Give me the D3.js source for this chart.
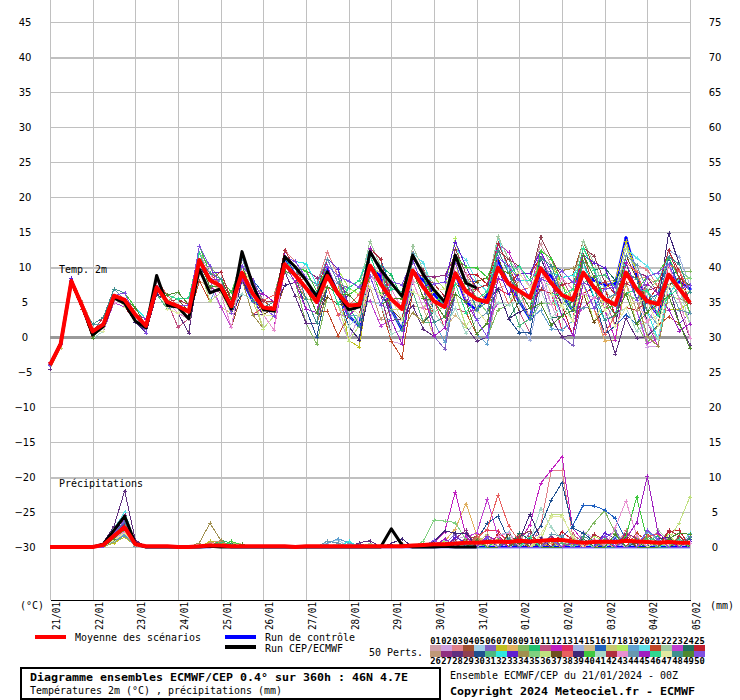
<!DOCTYPE html>
<html lang="fr">
<head>
<meta charset="utf-8">
<title>Diagramme ensembles ECMWF/CEP</title>
<script src="https://cdnjs.cloudflare.com/ajax/libs/d3/7.8.5/d3.min.js"></script>
<style>
  body { margin: 0; background: #fff; }
  svg { display: block; }
  text { font-family: "DejaVu Sans Mono", "Liberation Mono", monospace; fill: #000; }
</style>
</head>
<body>
<svg id="chart" width="740" height="700"></svg>
<script>
// ---- data ----
const days = ['21/01', '22/01', '23/01', '24/01', '25/01', '26/01', '27/01', '28/01',
  '29/01', '30/01', '31/01', '01/02', '02/02', '03/02', '04/02', '05/02'];
const dayHours = [0, 24, 48, 72, 96, 120, 144, 168, 192, 216, 240, 264, 288, 312, 336, 360];
const tempTicks = [-30, -25, -20, -15, -10, -5, 0, 5, 10, 15, 20, 25, 30, 35, 40, 45];
const precipTicks = [0, 5, 10, 15, 20, 25, 30, 35, 40, 45, 50, 55, 60, 65, 70, 75];
const stepHours = 6;

// ensemble mean of 2m temperature, every 6 h (°C)
const tempMean = [-4, -1, 8, 4.5, 0.8, 1.8, 5.9, 5.3, 3.2, 1.6,
  7.1, 5.0, 4.4, 3.6, 11.0, 8.1, 7.3, 4.4, 9.2, 6.2,
  4.2, 4.0, 10.4, 8.8, 7.0, 5.0, 8.7, 6.2, 4.5, 4.6,
  10.2, 7.6, 5.4, 4.0, 9.5, 7.1, 5.1, 4.3, 9.1, 6.5,
  5.4, 5.0, 9.9, 7.6, 6.6, 5.6, 9.8, 7.7, 6.0, 5.3,
  9.2, 7.1, 5.4, 4.6, 9.2, 6.8, 5.1, 4.7, 8.9, 6.9,
  4.9];
// deterministic run (stops at 240 h)
const tempHres = [-4, -1, 8, 4.5, 0.3, 1.5, 5.6, 4.8, 2.3, 1.3,
  8.8, 4.5, 4.3, 2.6, 9.7, 6.3, 6.9, 4.0, 12.2, 7.5,
  3.9, 3.7, 11.5, 10.0, 8.1, 5.8, 9.3, 6.2, 3.9, 4.3,
  12.2, 9.6, 7.7, 5.8, 11.7, 8.9, 6.7, 5.0, 11.7, 7.7,
  7.0];
// control run and the 50 perturbed members, as read departures from the mean (°C)
const tempControlOffsets = [0,0,0,0,0,0,0,0,0,0,0,0, 0,0,0,0,0,0,-1,-1,0,0,1,0, 0,1,1,0,-1.5,-3,0,1,-1.5,-3,0,1, 1,0,0,-1.5,-1.5,1,1,0,-1.5,-3,0,1, 0,-1.5,0,1,2,3,5,2,0,-1.5,0,1,2];
const tempMemberOffsets = [
  [0,0.5,0.5,0,0,1,0,0,1,1,0,1, 1,0,1,1,2,1,0,1,2,1,1,0, 0,-1.5,1.5,0,-1.5,-3,0,1.5,2.5,1.5,0,-1.5, -3,-5,-1.5,-3,-5,-6,-3,0,1.5,2.5,3.5,2.5, 1.5,0,2.5,1.5,3.5,2.5,0,-1.5,-3,-5,-1.5,0,1.5],
  [0,-0.5,-0.5,0,-1,0,0,-1,-1,0,-1,0, -1,-1,0,-1,-3,-1,-1,0,1,0,-1,-1, -3,-5,-1.5,-3,-5,-1.5,0,-3,-6,-5,-1.5,-3, 0,1.5,2.5,1.5,0,-1.5,1.5,2.5,3.5,1.5,0,-3, -5,-3,0,-1.5,-6,-5,-1.5,-3,-6.5,-6,-3,-5,-6],
  [0,0,0.5,0.5,0,0,1,1,0,-1,1,0, 0,1,2,1,1,0,2,1,0,1,2,2, 1.5,2.5,3.5,2.5,1.5,0,2.5,3.5,1.5,0,2.5,1.5, 0,-1.5,1.5,2.5,2.5,1.5,3.5,2.5,0,-3,1.5,0, -1.5,-3,1.5,0,-3,-1.5,2.5,3.5,4.5,2.5,1.5,0,-1.5],
  [0,0,-0.5,0,0,-1,-1,0,0,0,-1,-1, -1,-3,-1,0,-1,-3,-3,-1,0,-1,-3,-1, 0,1.5,0,-1.5,-3,-5,-1.5,0,1.5,0,-3,-1.5, -1.5,0,2.5,3.5,1.5,0,2.5,1.5,-1.5,-3,0,1.5, 2.5,3.5,4.5,2.5,0,1.5,3.5,2.5,-1.5,-3,0,2.5,3.5],
  [-0.5,0,0,0,1,0,-1,0,1,1,0,0, 1,2,-1,0,1,1,-3,-1,0,1,-1,0, 1.5,0,-3,-1.5,0,-1.5,-5,-3,-1.5,0,-3,-1.5, 1.5,2.5,0,-1.5,-5,-3,0,1.5,2.5,3.5,1.5,0, -3,-1.5,3.5,2.5,1.5,0,-1.5,-3,-5,-1.5,2.5,3.5,1.5],
  [0,0,0,-0.5,0,0,0,0,-1,-1,0,0, 0,-1,1,1,0,-1,1,2,1,0,0,1, 2.5,1.5,0,1.5,2.5,3.5,1.5,0,-1.5,-3,-1.5,0, -5,-6,-3,-1.5,0,-1.5,-5,-3,0,1.5,-1.5,-5, -6,-6.5,-3,-1.5,0,1.5,-3,-5,-1.5,0,2.5,1.5,-1.5],
  [0.5,0,0.5,0,1,1,0,1,0,0,0,1, 2,1,0,0,-1,0,1,1,-1,-3,0,1, -1.5,-3,0,1.5,-5,-6,-1.5,0,1.5,2.5,0,-1.5, 0,-1.5,-3,-1.5,1.5,2.5,0,-1.5,-5,-3,1.5,0, 2.5,1.5,0,-1.5,1.5,3.5,4.5,2.5,0,-1.5,-5,-3,0],
  [0,0,0,0,0,-1,0,0,0,1,1,0, -1,0,1,0,-1,0,0,-1,-3,-1,1,0, -3,-1.5,1.5,2.5,0,-1.5,1.5,2.5,0,-1.5,-5,-3, 1.5,0,-1.5,1.5,2.5,3.5,2.5,1.5,-1.5,0,2.5,3.5, 0,-1.5,-5,-3,-6,-5,-1.5,1.5,3.5,2.5,0,-1.5,-3],
  [0,-0.5,0,0,-1,-1,0,0,1,0,0,-1, 0,1,1,2,1,1,-1,0,1,2,0,-1, -5,-6,-3,-1.5,-3,-5,0,1.5,-1.5,-3,1.5,0, 2.5,1.5,0,-1.5,-3,-5,-6,-3,0,1.5,-1.5,-3, 1.5,2.5,0,1.5,3.5,2.5,-3,-5,-6,-3,1.5,2.5,4.5],
  [0,0.5,0,0.5,0,1,1,0,0,0,1,1, 1,1,0,-1,0,1,1,0,-1,0,1,2, 1.5,0,2.5,1.5,0,-3,1.5,2.5,3.5,1.5,-1.5,0, -3,-1.5,1.5,2.5,0,-1.5,2.5,3.5,1.5,0,-3,-1.5, 0,1.5,-1.5,-3,1.5,2.5,1.5,0,2.5,3.5,-1.5,-3,-5],
  [0,0,0,0,1,0,0,-1,0,0,-1,0, -3,-1,0,-1,-1,-3,0,1,0,-1,-1,0, 1.5,2.5,-1.5,-3,-1.5,0,-3,-1.5,0,1.5,-1.5,-3, -1.5,0,-5,-3,-1.5,1.5,-1.5,0,-3,-5,-1.5,1.5, 2.5,0,-1.5,1.5,0,-3,-5,-1.5,1.5,0,-3,-1.5,0],
  [0,0,-0.5,0,0,0,1,0,-1,0,1,0, 0,-1,2,1,0,-1,1,0,-1,-3,2,1, 0,-1.5,2.5,1.5,-1.5,-3,1.5,0,-3,-5,0,1.5, 2.5,3.5,1.5,0,-3,-1.5,3.5,4.5,2.5,1.5,0,-1.5, -1.5,0,3.5,2.5,-1.5,-5,0,1.5,-3,-6,-1.5,0,2.5],
  [0.5,0,0,0,-1,0,0,1,1,0,0,0, 1,0,-1,-1,1,2,-1,-3,0,1,0,-1, -1.5,0,1.5,0,1.5,2.5,-1.5,-3,0,1.5,2.5,1.5, 0,-3,-1.5,0,1.5,0,-3,-1.5,1.5,2.5,0,-1.5, -5,-3,1.5,2.5,0,-1.5,2.5,1.5,-1.5,-3,1.5,0,-3],
  [0,0,0,0,0,0,-1,-1,0,1,-1,0, 1,2,1,0,2,1,0,1,1,2,1,0, 3.5,2.5,1.5,2.5,0,1.5,2.5,1.5,-1.5,0,1.5,2.5, 1.5,0,2.5,1.5,-1.5,-3,0,-1.5,-5,-6,-3,0, 1.5,2.5,0,-1.5,-3,0,1.5,2.5,0,1.5,3.5,4.5,2.5],
  [0,0.5,0.5,0.5,1,1,1,0,-1,-1,0,1, 0,-1,-3,-1,0,-1,-1,0,-1,0,-3,-1, -1.5,0,-3,-1.5,-5,-3,-3,-1.5,0,-1.5,-5,-3, -5,-3,-6,-5,-1.5,0,-1.5,-3,0,1.5,2.5,1.5, 0,-1.5,-3,0,2.5,3.5,1.5,0,-3,-1.5,-5,-6,-3],
  [0,0,0,0,0,-1,0,1,0,0,0,-1, 0,1,0,1,-1,0,1,2,2,1,1,2, 1.5,0,-1.5,0,1.5,0,2.5,3.5,1.5,0,1.5,0, 0,-1.5,0,1.5,2.5,1.5,-1.5,-3,-1.5,0,1.5,2.5, 3.5,2.5,1.5,0,-1.5,-3,-6,-5,0,1.5,2.5,0,-1.5],
  [-0.5,-0.5,0,0,-1,-1,-1,0,0,1,0,0, -1,-3,0,0,-3,-1,0,-1,-3,-1,0,-1, -3,-1.5,0,-1.5,-3,-1.5,1.5,0,-1.5,-3,-1.5,-3, -1.5,0,1.5,-1.5,-3,-1.5,1.5,2.5,0,-1.5,-5,-3, -1.5,1.5,2.5,3.5,1.5,0,-1.5,-5,-3,0,1.5,-1.5,-5],
  [0,0,0.5,0,0,1,0,0,1,0,1,0, 1,0,1,2,0,-1,2,1,1,0,2,1, 0,1.5,2.5,3.5,2.5,1.5,0,-1.5,2.5,1.5,0,1.5, 3.5,2.5,5,0,2.5,3.5,1.5,0,-3,-1.5,1.5,2.5, 1.5,0,-1.5,-5,-1.5,0,2.5,3.5,1.5,0,-1.5,1.5,3.5],
  [0,0,0,0,1,0,0,0,-1,0,1,1, 0,0,-1,-3,1,1,-1,-1,0,0,-1,-3, -1.5,-3,0,0,-1.5,-1.5,-3,-5,-3,-1.5,1.5,0, -3,-5,-3,-1.5,-5,-6,-1.5,0,-1.5,-3,-6,-6.5, -5,-3,0,-1.5,-5,-3,0,1.5,-1.5,-3,0,-1.5,-3],
  [0,0,0,0,0,0,0,-1,0,0,0,-1, -1,0,1,1,0,0,1,1,0,1,1,0, 1.5,2.5,1.5,0,2.5,3.5,2.5,1.5,0,-1.5,2.5,3.5, 1.5,0,3.5,4.5,2.5,1.5,4.5,1.5,1.5,2.5,0,-1.5, -3,-5,-1.5,0,2.5,1.5,3.5,4.5,5,3.5,2.5,1.5,0],
  [0,0,-0.5,-0.5,-1,0,1,1,0,-1,0,0, 0,-1,-3,-3,-1,0,-1,-1,1,0,-1,0, 0,-1.5,-5,-6,-1.5,0,-1.5,-3,-6,-7,-3,-1.5, 0,1.5,-1.5,-3,-5,-3,0,1.5,-1.5,-3,-5,-3, 0,1.5,2.5,0,-1.5,-3,1.5,2.5,0,-3,-6,-5,-1.5],
  [0,0,0,0,0,0,0,1,1,1,0,0, 1,1,2,1,1,2,2,1,0,1,2,1, 1.5,2.5,0,-1.5,1.5,2.5,3.5,2.5,1.5,0,3.5,2.5, 2.5,1.5,0,-1.5,1.5,2.5,4.5,3.5,2.5,1.5,-1.5,0, 1.5,2.5,4.5,3.5,1.5,0,-1.5,-3,1.5,2.5,0,-1.5,1.5],
  [0,0,0,0,0,-1,-1,-1,0,0,-1,0, 0,-1,-1,0,-3,-3,0,1,-1,-3,-1,0, -1.5,0,-1.5,-3,-1.5,0,-5,-6,-3,-1.5,0,-1.5, -3,-1.5,0,1.5,-1.5,-3,-5,-3,0,1.5,2.5,0, -1.5,-3,-5,-1.5,0,1.5,-1.5,-3,-6,-5,-1.5,0,1.5],
  [0,0.5,0,0,1,1,0,0,0,-1,0,1, 1,2,0,-1,1,2,0,-1,2,1,0,1, 2.5,1.5,-1.5,-3,0,1.5,0,-1.5,1.5,2.5,-3,-5, -1.5,0,2.5,1.5,0,-1.5,-3,-5,-1.5,0,-3,-5, -3,0,1.5,2.5,4.5,3.5,1.5,-1.5,-5,-3,0,2.5,3.5],
  [0,0,0,0,0,0,0,-1,-1,0,0,0, -1,-1,1,0,0,-1,1,0,-1,-1,0,1, 0,1.5,1.5,0,-3,-1.5,2.5,1.5,0,1.5,1.5,0, -1.5,-3,1.5,2.5,3.5,2.5,1.5,0,2.5,3.5,1.5,0, -1.5,-5,-3,0,1.5,-1.5,-5,-3,0,2.5,3.5,2.5,0],
  [0,0,0,0.5,0,0,1,0,0,1,0,0, 0,0,1,2,-1,-1,0,1,1,2,-1,-3, -1.5,-3,1.5,2.5,0,-1.5,-3,-5,-1.5,0,1.5,2.5, 0,-1.5,-1.5,0,-3,-5,-1.5,0,-3,-1.5,1.5,2.5, 0,1.5,-1.5,-3,0,1.5,-1.5,-3,2.5,3.5,1.5,0,-1.5],
  [0,0,0,0,-1,-1,0,0,0,0,1,1, 1,0,0,-1,-1,0,2,2,0,-1,0,1, 2.5,3.5,0,-1.5,1.5,2.5,0,-1.5,-5,-3,0,1.5, 3.5,4.5,2.5,1.5,0,-1.5,1.5,2.5,0,-1.5,1.5,0, -3,-5,0,1.5,-1.5,-3,1.5,2.5,3.5,1.5,-1.5,-3,-5],
  [-0.5,0,0,0,0,1,1,0,-1,0,0,-1, -1,-3,-1,-1,0,1,-1,-3,-1,0,-1,-3, -5,-3,-1.5,0,-1.5,-3,-1.5,0,-3,-1.5,-5,-6, -5,-3,-3,-5,-6,-5,-1.5,-3,-1.5,0,-3,-5, -6,-5,-1.5,0,-3,-7,-6.5,-7,-5,-3,-1.5,-5,-6],
  [0,0,0,0,1,0,0,0,0,0,0,0, 0,1,1,1,0,0,1,0,0,1,1,1, 0,0,2.5,1.5,1.5,0,1.5,2.5,0,-1.5,1.5,2.5, 0,1.5,3.5,2.5,1.5,0,2.5,3.5,3.5,2.5,4.5,3.5, 2.5,1.5,3.5,4.5,2.5,1.5,0,-1.5,2.5,1.5,-3,-1.5,0],
  [0,0,0,0,0,0,-1,0,0,0,0,0, 0,-1,0,1,0,-1,-3,-1,0,-1,-1,0, -3,-5,-1.5,0,-3,-5,1.5,2.5,-1.5,-3,0,1.5, -1.5,-3,0,1.5,-1.5,0,-3,-5,-6,-5,-1.5,0, 1.5,2.5,0,-1.5,-5,-3,0,1.5,0,-1.5,2.5,1.5,0],
  [0,0,0,0,-1,0,0,1,0,0,-1,-1, -1,0,0,-1,1,1,-1,0,2,1,-1,-1, 0,1.5,1.5,0,-1.5,-3,0,1.5,1.5,0,-3,-5, -3,-1.5,1.5,0,-1.5,1.5,0,-1.5,-5,-3,0,1.5, 0,-3,-1.5,1.5,3.5,2.5,1.5,0,-1.5,1.5,0,-1.5,1.5],
  [0,0,0,0,0,0,0,0,1,1,1,0, 1,1,-1,-1,0,1,1,2,0,0,1,2, 3.5,2.5,0,-1.5,0,1.5,-1.5,-3,1.5,2.5,-1.5,-3, 1.5,2.5,-1.5,-3,0,1.5,-1.5,-3,1.5,2.5,0,1.5, 2.5,3.5,1.5,-1.5,-3,-1.5,2.5,1.5,-1.5,-5,-3,1.5,2.5],
  [0,0,0.5,0,1,1,0,-1,0,0,0,1, 0,0,1,1,2,1,-1,-1,-1,0,2,1, -1.5,0,2.5,3.5,0,-1.5,0,1.5,-3,-5,-1.5,0, 2.5,3.5,4.5,3.5,1.5,2.5,0,-1.5,2.5,3.5,2.5,1.5, -1.5,0,2.5,3.5,4.5,1.5,-1.5,0,1.5,0,-3,-5,-1.5],
  [0,0,0,0,0,-1,0,0,-1,-1,0,0, -1,-1,0,0,-1,-1,-1,-3,-3,-1,0,-1, -1.5,-3,-3,-1.5,-5,-3,-1.5,0,-1.5,-3,-6,-5, 0,1.5,-1.5,0,-3,-1.5,0,1.5,-1.5,-3,-1.5,0, 3.5,4.5,1.5,0,-1.5,1.5,0,-1.5,-5,-6,-3,-1.5,0],
  [0,0,0,0,0,0,1,1,0,0,1,0, 2,1,1,2,0,-1,1,0,1,2,1,0, 1.5,0,1.5,2.5,1.5,0,2.5,1.5,0,1.5,1.5,0, -1.5,0,1.5,2.5,0,-1.5,1.5,0,-1.5,-3,-5,-3, 0,-1.5,1.5,2.5,0,-1.5,-3,-1.5,1.5,3.5,1.5,2.5,3.5],
  [0,0,0,0,-1,0,-1,0,0,1,0,-1, 0,0,-1,-3,-1,0,0,0,-3,-1,0,0, -1.5,0,0,-1.5,-5,-3,0,1.5,-1.5,0,-1.5,-3, 1.5,0,-3,-5,-1.5,0,-1.5,-3,1.5,0,-3,-1.5, 0,-1.5,-3,-5,0,1.5,3.5,2.5,0,-1.5,-3,-1.5,-3],
  [0,0,0,0,0,1,0,0,0,0,0,1, 1,0,-1,0,1,1,1,0,-1,0,1,1, 0,-1.5,-3,-1.5,0,1.5,1.5,0,-1.5,-1.5,0,1.5, 2.5,1.5,-1.5,0,2.5,3.5,1.5,0,-3,-1.5,1.5,0, -1.5,0,-3,-5,-1.5,0,2.5,1.5,0,-3,-1.5,1.5,2.5],
  [0,0,0,0,0,0,0,-1,0,0,1,1, 0,-1,0,1,0,0,-1,-1,1,2,0,-1, 1.5,2.5,-1.5,-3,0,1.5,0,-1.5,2.5,3.5,-1.5,-3, -1.5,-3,1.5,2.5,1.5,0,-1.5,-3,0,1.5,-3,-1.5, 1.5,2.5,-1.5,-3,-5,-1.5,1.5,2.5,0,-1.5,1.5,2.5,1.5],
  [0,0,0,0,1,0,0,0,-1,-1,-1,0, -1,-1,-1,0,-1,-3,-1,-1,0,0,-3,-1, -3,-1.5,0,-1.5,-3,-5,-3,-1.5,-1.5,-3,-3,-1.5, 0,1.5,0,-1.5,1.5,2.5,-3,-5,-3,-1.5,1.5,0, -3,-1.5,0,1.5,-1.5,-3,0,1.5,-3,0,6,3.5,1.5],
  [0,0,0,0,0,0,1,1,1,0,0,0, 0,1,2,1,1,2,1,0,1,1,0,1, 2.5,1.5,1.5,0,1.5,2.5,0,-1.5,1.5,2.5,2.5,1.5, 0,1.5,2.5,3.5,4.5,3.5,2.5,1.5,0,-1.5,2.5,3.5, 1.5,-1.5,2.5,1.5,-1.5,0,1.5,0,3.5,4.5,2.5,1.5,-1.5],
  [0,0,0,0,-1,-1,0,0,0,-1,0,0, 0,-1,-1,-1,0,0,-3,-1,0,0,-1,-1, -3,-1.5,0,-1.5,-3,-1.5,-1.5,-3,-5,-3,-1.5,0, -1.5,-3,-5,-6,-3,-1.5,-5,-3,-1.5,0,-3,-5, -1.5,0,-1.5,-3,0,-1.5,-5,-6,-3,-5,-1.5,0,-3],
  [0,0,0,0,0,1,1,0,0,0,0,0, 1,1,0,0,2,1,0,0,1,1,2,1, 0,1.5,2.5,1.5,0,-1.5,2.5,3.5,0,-1.5,0,1.5, 2.5,1.5,0,-1.5,1.5,2.5,3.5,2.5,0,-1.5,-3,-1.5, 1.5,2.5,1.5,0,2.5,1.5,-1.5,0,1.5,2.5,3.5,1.5,0],
  [0,0,0,0,0,0,-1,0,0,0,1,0, -1,-1,1,1,-1,-3,0,1,-1,-3,0,0, -1.5,-3,0,1.5,-1.5,-3,-1.5,0,1.5,0,-1.5,-3, 0,-1.5,1.5,2.5,-1.5,-3,0,1.5,2.5,1.5,-1.5,-3, 2.5,1.5,-3,-1.5,1.5,2.5,0,-1.5,-3,0,1.5,-1.5,-5],
  [0,0,0,0,1,0,1,0,0,0,0,-1, 0,1,0,-1,0,1,2,1,0,-1,0,1, 1.5,2.5,2.5,1.5,0,-1.5,-3,-1.5,0,1.5,2.5,1.5, 1.5,2.5,0,-1.5,-3,-1.5,1.5,2.5,-1.5,-3,0,1.5, 0,-1.5,-5,-3,0,1.5,2.5,3.5,1.5,0,-1.5,-3,-1.5],
  [0,0,0,0,-1,0,0,1,0,1,0,0, 0,0,1,0,1,0,-1,0,2,1,0,-1, -3,-1.5,1.5,0,-1.5,0,2.5,1.5,-3,-5,1.5,0, -5,-3,0,-1.5,-3,-5,-1.5,0,-1.5,-3,-1.5,0, -3,-5,-1.5,0,-3,-1.5,1.5,0,2.5,1.5,-5,-6,-3],
  [0,0,0,0,0,0,0,0,0,-1,0,1, 1,2,1,0,0,1,0,-1,0,1,1,0, 0,1.5,0,-1.5,2.5,3.5,1.5,0,1.5,2.5,0,-1.5, 1.5,0,-1.5,-3,0,1.5,2.5,1.5,3.5,2.5,0,-1.5, 0,1.5,3.5,2.5,0,-1.5,-3,0,1.5,-1.5,-3,0,2.5],
  [0,0,0,0,0,-1,0,-1,0,0,0,-1, -1,0,0,0,-1,-1,1,1,-1,-1,0,0, 1.5,0,-1.5,0,0,-1.5,-3,-1.5,0,-1.5,-3,-1.5, 1.5,2.5,1.5,0,-1.5,-3,0,1.5,2.5,1.5,0,-1.5, -1.5,-3,0,1.5,-1.5,-3,-5,-1.5,0,-3,-1.5,0,1.5],
  [0,0,0,0,1,1,1,1,0,0,0,0, 0,0,0,1,1,0,0,-1,0,1,1,1, -1.5,-3,1.5,2.5,-1.5,-3,1.5,2.5,-1.5,-3,1.5,0, -3,-1.5,2.5,1.5,-1.5,0,2.5,1.5,-1.5,-3,1.5,2.5, 0,-1.5,1.5,0,-3,-1.5,0,1.5,-1.5,0,2.5,3.5,1.5],
  [0,0,0,0,-1,0,0,0,1,0,0,1, 2,1,0,-1,0,1,1,0,0,-1,-1,0, 0,-1.5,-1.5,0,1.5,0,-1.5,-3,0,1.5,0,-1.5, 0,-1.5,-3,-1.5,-5,-3,0,1.5,0,-1.5,-5,-6, -3,-1.5,2.5,1.5,0,-1.5,-3,-5,-1.5,0,-3,-5,-6.5],
  [0,0,0,0,0,0,0,1,0,-1,0,0, 0,1,2,2,0,-1,1,2,0,-1,1,2, 1.5,0,1.5,2.5,3.5,2.5,-1.5,-3,2.5,3.5,1.5,0, 2.5,3.5,1.5,0,-3,-5,1.5,2.5,1.5,0,-1.5,0, 3.5,2.5,-1.5,-3,1.5,2.5,0,-1.5,3.5,4.5,1.5,0,2.5]
];

// precipitation over 6 h (mm)
const precipMean = [0, 0, 0, 0, 0, 0.3, 1.6, 2.8, 0.4, 0.1,
  0.1, 0.1, 0, 0, 0.1, 0.2, 0.2, 0.1, 0.1, 0.1,
  0.1, 0.1, 0.1, 0, 0.1, 0.1, 0.1, 0.1, 0.1, 0.1,
  0.1, 0.1, 0.1, 0.1, 0.2, 0.3, 0.4, 0.4, 0.5, 0.6,
  0.6, 0.7, 0.8, 0.7, 0.9, 0.8, 0.9, 1.0, 1.0, 0.8,
  0.6, 0.7, 0.8, 0.7, 0.9, 0.8, 0.7, 0.6, 0.7, 0.6,
  0.6];
const precipHres = [0, 0, 0, 0, 0, 0.4, 2.4, 4.4, 0.5, 0,
  0, 0, 0, 0, 0, 0.1, 0, 0, 0, 0,
  0, 0, 0, 0, 0, 0, 0, 0, 0, 0,
  0, 0, 2.6, 0.3, 0, 0, 0, 0.1, 0, 0,
  0];
const precipControl = [0, 0, 0, 0, 0, 0.3, 1.5, 3.0, 0.4, 0,
  0, 0, 0, 0, 0, 0, 0.2, 0, 0, 0,
  0, 0, 0, 0, 0, 0, 0, 0, 0, 0,
  0, 0, 0, 0, 0, 0, 0, 0, 0, 0,
  0, 0, 0, 0, 0, 0, 0, 0, 0, 0,
  0, 0, 0, 0, 0, 0, 0, 0, 0, 0,
  0];
// members: [step, mm] for the steps with rain, other steps dry
const precipMemberEvents = [
  [[6,1.2],[7,2.5],[8,0.3],[16,0.3],[40,0.8],[41,1.2],[44,0.5],[47,1.5],[48,0.6],[52,0.4],[55,0.9]],
  [[5,0.4],[6,2.0],[7,3.6],[8,0.5],[15,0.4],[38,1.0],[39,1.6],[43,0.8],[50,2.2],[51,1.2],[57,0.8]],
  [[6,1.5],[7,2.2],[8,0.2],[41,0.6],[46,3.0],[47,11.0],[48,11.0],[49,1.5],[54,2.4],[58,1.2]],
  [[5,0.2],[6,0.8],[7,1.6],[8,0.6],[17,0.4],[33,0.4],[39,1.2],[40,1.5],[44,0.6],[53,0.8],[56,1.8],[57,0.6]],
  [[6,1.0],[7,2.0],[8,0.4],[26,0.6],[27,1.0],[36,0.4],[42,1.6],[43,2.2],[45,0.6],[59,1.0]],
  [[5,0.5],[6,2.6],[7,4.2],[8,0.8],[16,0.6],[37,0.5],[38,1.8],[45,2.0],[46,1.4],[52,1.2],[53,2.4],[60,1.6]],
  [[6,0.6],[7,1.4],[8,0.2],[15,0.8],[16,0.6],[30,0.3],[41,0.8],[48,1.0],[49,0.5],[55,1.4]],
  [[5,0.3],[6,1.8],[7,3.2],[8,0.3],[37,0.8],[38,2.6],[39,6.2],[40,1.8],[47,0.6],[54,1.0],[58,0.8]],
  [[6,1.4],[7,2.8],[8,0.5],[17,0.3],[44,1.2],[50,1.4],[51,3.5],[52,5.2],[53,2.0],[59,0.6]],
  [[6,2.2],[7,3.0],[8,0.6],[16,1.0],[17,0.5],[39,0.5],[43,1.0],[44,1.4],[56,0.8],[57,1.6]],
  [[5,0.4],[6,1.2],[7,2.4],[8,0.4],[29,0.5],[42,0.8],[46,1.2],[49,1.8],[50,0.7]],
  [[6,1.6],[7,3.4],[8,0.6],[36,0.6],[37,2.2],[38,7.9],[39,1.5],[44,0.7],[45,3.2],[46,9.1],[47,11.0],[48,12.9],[49,2.7],[50,0.8],[56,1.0]],
  [[6,0.9],[7,1.8],[8,0.2],[16,0.4],[40,1.6],[41,2.4],[42,2.3],[43,0.6],[52,1.5],[58,0.7]],
  [[5,0.2],[6,1.4],[7,2.6],[8,0.5],[28,0.4],[38,0.4],[45,0.8],[53,1.6],[54,1.2],[60,0.8]],
  [[6,1.0],[7,2.0],[8,0.4],[15,0.5],[36,0.6],[44,1.8],[47,0.8],[51,0.6],[57,1.2]],
  [[6,2.4],[7,4.6],[8,0.9],[29,0.4],[39,0.8],[43,0.6],[48,1.4],[49,3.0],[50,6.0],[51,5.9],[52,5.3],[53,4.1],[54,1.0]],
  [[5,0.3],[6,1.6],[7,2.9],[8,0.4],[17,0.6],[18,0.4],[40,0.6],[41,1.8],[55,0.8],[59,1.6]],
  [[6,1.2],[7,2.4],[8,0.4],[37,0.9],[42,1.2],[46,0.6],[51,1.6],[52,0.8],[58,1.8]],
  [[6,0.8],[7,1.8],[8,0.3],[26,0.5],[27,1.2],[28,0.6],[38,0.8],[47,1.2],[54,0.8],[56,2.2],[57,1.0]],
  [[5,0.5],[6,2.6],[7,5.0],[8,0.7],[33,0.3],[39,1.0],[44,0.8],[48,0.6],[53,1.4],[60,2.0]],
  [[6,1.4],[7,2.6],[8,0.4],[16,0.4],[41,1.0],[45,1.6],[46,0.6],[55,2.0],[56,0.8]],
  [[6,1.0],[7,2.2],[8,0.2],[30,0.5],[38,0.6],[43,1.4],[49,0.8],[57,2.4],[58,1.0]],
  [[5,0.3],[6,2.0],[7,3.8],[8,0.5],[39,1.4],[40,2.0],[41,6.8],[42,1.5],[47,1.0],[53,0.6],[59,0.8]],
  [[6,1.2],[7,2.4],[8,0.5],[17,0.5],[36,0.3],[44,2.0],[45,1.0],[50,1.2],[55,0.6],[60,1.2]],
  [[6,1.8],[7,3.2],[8,0.5],[40,0.8],[42,1.8],[48,2.2],[49,1.0],[54,1.8],[58,2.2],[59,2.4]],
  [[6,0.8],[7,1.6],[8,0.3],[15,0.6],[16,0.9],[37,0.4],[46,1.0],[52,0.6],[56,1.2]],
  [[5,0.4],[6,2.2],[7,4.6],[8,0.8],[38,1.2],[39,2.4],[43,0.8],[47,1.6],[54,2.0],[55,1.2]],
  [[5,0.6],[6,3.0],[7,8.0],[8,1.0],[17,0.3],[29,0.6],[30,0.9],[41,1.2],[45,0.6],[51,1.0],[57,0.8]],
  [[6,1.4],[7,2.8],[8,0.4],[37,0.5],[44,1.6],[45,2.3],[52,0.9],[59,1.4],[60,0.6]],
  [[6,1.6],[7,3.0],[8,0.6],[40,1.0],[41,3.4],[42,4.4],[43,1.0],[45,1.2],[46,3.0],[47,6.7],[48,9.2],[49,2.7],[50,2.0],[51,0.8]],
  [[6,1.0],[7,2.2],[8,0.3],[16,0.7],[17,0.4],[27,0.4],[39,0.6],[48,0.6],[56,1.4],[57,0.8]],
  [[5,0.2],[6,1.2],[7,2.6],[8,0.4],[28,0.8],[42,0.8],[50,0.6],[53,1.0],[58,0.6]],
  [[6,1.8],[7,3.4],[8,0.6],[38,1.4],[39,0.6],[44,1.0],[52,2.0],[53,1.2],[60,0.8]],
  [[6,1.2],[7,2.2],[8,0.4],[14,0.6],[15,3.4],[16,1.0],[40,1.4],[47,0.8],[55,1.0]],
  [[6,1.4],[7,3.0],[8,0.5],[35,0.8],[36,3.9],[37,3.7],[38,3.5],[39,1.0],[50,0.8],[57,0.6]],
  [[6,0.9],[7,2.0],[8,0.3],[41,0.8],[46,1.0],[47,4.6],[48,4.6],[49,1.2],[58,1.0],[59,3.5],[60,7.2]],
  [[5,0.3],[6,1.6],[7,3.0],[8,0.4],[16,0.5],[38,0.7],[43,1.8],[44,0.6],[54,1.4],[59,0.8]],
  [[6,1.4],[7,2.6],[8,0.4],[40,1.2],[41,2.6],[42,7.4],[43,3.0],[44,0.8],[51,1.0],[56,1.6],[57,1.8]],
  [[6,2.0],[7,4.2],[8,0.7],[32,0.5],[33,1.2],[36,0.8],[37,2.3],[38,2.0],[39,2.0],[44,1.0],[45,4.7],[46,1.2],[57,1.2],[58,1.4]],
  [[6,1.2],[7,2.4],[8,0.4],[17,0.8],[18,0.3],[42,1.0],[49,0.8],[54,1.6],[55,7.1],[56,1.0]],
  [[6,1.0],[7,2.0],[8,0.3],[27,0.5],[37,1.0],[45,0.8],[46,5.5],[47,2.8],[48,1.0],[53,0.8]],
  [[5,0.4],[6,2.4],[7,4.0],[8,0.6],[39,0.8],[44,1.4],[51,1.8],[52,1.0],[58,2.4],[59,1.6]],
  [[6,1.2],[7,2.2],[8,0.4],[38,0.6],[42,1.6],[43,2.0],[53,2.8],[54,6.6],[55,1.6],[60,0.6]],
  [[6,0.8],[7,1.6],[8,0.2],[26,0.8],[27,0.6],[39,0.4],[47,1.8],[48,1.6],[55,1.0],[56,0.6]],
  [[6,1.6],[7,3.6],[8,0.5],[37,1.2],[41,1.6],[42,0.8],[49,0.6],[54,1.2],[55,3.5],[56,10.1],[57,2.0],[58,0.8]],
  [[6,1.4],[7,2.8],[8,0.4],[16,0.5],[40,0.6],[45,1.4],[52,1.2],[59,1.2]],
  [[6,1.0],[7,2.0],[8,0.3],[38,0.5],[46,1.8],[47,4.3],[48,4.3],[49,1.6],[57,0.8]],
  [[5,0.2],[6,1.8],[7,3.6],[8,0.6],[29,0.3],[43,1.2],[50,1.6],[51,0.6],[60,1.4]],
  [[6,1.2],[7,2.6],[8,0.4],[18,0.4],[40,1.0],[44,1.2],[53,1.8],[58,1.2],[59,2.0],[60,1.8]],
  [[6,2.0],[7,3.8],[8,0.6],[36,1.0],[41,1.4],[47,1.0],[52,1.6],[56,2.4],[57,1.2]]
];

const memberColors = ['#d0a0a8', '#d0a0e0', '#e08088', '#a05030', '#a0d0e8', '#8060c0', '#c0c020', '#e0b060',
  '#80b860', '#20c070', '#c05080', '#c020c0', '#e03060', '#a0b0e0', '#d0b888', '#2060c0', '#c8c870',
  '#b0e860', '#60a0d0', '#60e0e8', '#c04828', '#a0c8a0', '#c040d0', '#207060', '#c02030',
  '#c09878', '#903080', '#603080', '#904050', '#205090', '#50b880', '#30e8e0', '#6020d0', '#a09050',
  '#80d080', '#c0e080', '#705020', '#e86060', '#402878', '#40c840', '#a8d8c8', '#b03040', '#e890d0',
  '#6898b0', '#a020c0', '#30d890', '#e0e8a0', '#409090', '#508830', '#8050e0'];

// ---- chart ----
const svg = d3.select('#chart');
const x = d3.scaleLinear().domain([0, 360]).range([50, 690]);
const yT = d3.scaleLinear().domain([-30, 45]).range([547, 22]);
const yP = d3.scaleLinear().domain([0, 75]).range([547, 22]);

const lineT = d3.line().defined(d => d != null && !isNaN(d)).x((d, i) => x(i * stepHours)).y(d => yT(d));
const lineP = d3.line().defined(d => d != null && !isNaN(d)).x((d, i) => x(i * stepHours)).y(d => yP(d));

function crosses(values, y, keep) {
  return values.map((v, i) => {
    if (!keep(v)) return '';
    const px = Math.round(x(i * stepHours)), py = Math.round(y(v));
    return `M${px - 2},${py}h4M${px},${py - 2}v4`;
  }).join('');
}

// grid
const gridX = svg.append('g').attr('transform', 'translate(0,600)')
  .call(d3.axisBottom(x).tickValues(dayHours).tickSize(-600).tickSizeOuter(0).tickFormat(''));
gridX.selectAll('.tick line').attr('stroke', '#c0c0c0').attr('shape-rendering', 'crispEdges');

const gridY = svg.append('g').attr('transform', 'translate(50,0)')
  .call(d3.axisLeft(yT).tickValues(tempTicks).tickSize(-640).tickSizeOuter(0).tickFormat(''));
gridY.select('.domain').remove();
gridY.selectAll('.tick line')
  .attr('stroke', d => d === 0 ? '#999999' : '#c0c0c0')
  .attr('stroke-width', d => d === 0 ? 3 : ([40, 10, -20].includes(d) ? 2 : 1))
  .attr('shape-rendering', 'crispEdges');

gridX.select('.domain').attr('stroke', '#000').attr('shape-rendering', 'crispEdges').raise();

// axis labels
const axL = svg.append('g').attr('transform', 'translate(50,0)')
  .call(d3.axisLeft(yT).tickValues(tempTicks).tickSize(0).tickPadding(0));
axL.select('.domain').remove();
axL.selectAll('text').attr('x', -25).attr('text-anchor', 'middle')
  .style('font-family', '"DejaVu Sans", sans-serif').style('font-size', '10px');

const axR = svg.append('g').attr('transform', 'translate(690,0)')
  .call(d3.axisRight(yP).tickValues(precipTicks).tickSize(0).tickPadding(0));
axR.select('.domain').remove();
axR.selectAll('text').attr('x', 25).attr('text-anchor', 'middle')
  .style('font-family', '"DejaVu Sans", sans-serif').style('font-size', '10px');

svg.append('g').selectAll('text').data(days).join('text')
  .attr('transform', (d, i) => `translate(${x(dayHours[i]) + 10},630) rotate(-90)`)
  .attr('font-size', 10).attr('textLength', 28).attr('lengthAdjust', 'spacingAndGlyphs')
  .text(d => d);

function label(x0, y0, s, size, cw, bold) {
  return svg.append('text').attr('x', x0).attr('y', y0).text(s)
    .attr('font-size', size).attr('font-weight', bold ? 'bold' : null)
    .attr('textLength', s.length * cw).attr('lengthAdjust', 'spacingAndGlyphs');
}

label(20, 609, '(°C)', 10.5, 6);
label(710, 609, '(mm)', 10.5, 6);
label(59, 273, 'Temp. 2m', 10.5, 6);
label(59, 487, 'Précipitations', 10.5, 6);

// series
const tempMembers = tempMemberOffsets.map(off => tempMean.map((m, i) => m + off[i]));
const tempControl = tempMean.map((m, i) => m + tempControlOffsets[i]);
const precipMembers = precipMemberEvents.map(ev => {
  const s = tempMean.map(() => 0);
  ev.forEach(([i, v]) => { s[i] = v; });
  return s;
});

// control run first: the members are drawn over it
const gCtrl = svg.append('g').attr('fill', 'none').attr('stroke-linejoin', 'round');
gCtrl.append('path').attr('d', lineT(tempControl)).attr('stroke', '#0000ff').attr('stroke-width', 2.5);
gCtrl.append('path').attr('d', crosses(tempControl, yT, () => true)).attr('stroke', '#0000ff').attr('stroke-width', 1);
gCtrl.append('path').attr('d', lineP(precipControl)).attr('stroke', '#0000ff').attr('stroke-width', 2.5);

const gMembers = svg.append('g').attr('fill', 'none').attr('shape-rendering', 'crispEdges');
tempMembers.forEach((s, k) => {
  gMembers.append('path').attr('d', lineT(s)).attr('stroke', memberColors[k]).attr('stroke-width', 1);
  gMembers.append('path').attr('d', crosses(s, yT, () => true)).attr('stroke', memberColors[k]).attr('stroke-width', 1);
});
precipMembers.forEach((s, k) => {
  gMembers.append('path').attr('d', lineP(s)).attr('stroke', memberColors[k]).attr('stroke-width', 1);
  gMembers.append('path').attr('d', crosses(s, yP, v => v > 0)).attr('stroke', memberColors[k]).attr('stroke-width', 1);
});

// deterministic run and mean on top
const gMain = svg.append('g').attr('fill', 'none').attr('stroke-linejoin', 'round');
gMain.append('path').attr('d', lineT(tempHres)).attr('stroke', '#000').attr('stroke-width', 3);
gMain.append('path').attr('d', lineP(precipHres)).attr('stroke', '#000').attr('stroke-width', 3);
gMain.append('path').attr('d', lineT(tempMean)).attr('stroke', '#ff0000').attr('stroke-width', 4);
gMain.append('path').attr('d', lineP(precipMean)).attr('stroke', '#ff0000').attr('stroke-width', 4);

// legend
const legend = [
  { text: 'Moyenne des scénarios', color: '#ff0000', x: 35, y: 637, ty: 640.5 },
  { text: 'Run de contrôle', color: '#0000ff', x: 225, y: 637, ty: 640.5 },
  { text: 'Run CEP/ECMWF', color: '#000000', x: 225, y: 647, ty: 652 }
];
legend.forEach(l => {
  svg.append('rect').attr('x', l.x).attr('y', l.y - 2).attr('width', 31).attr('height', 4).attr('fill', l.color);
  label(l.x + 40, l.ty, l.text, 9.8, 6);
});

label(369, 656, '50 Perts.', 10.5, 6);
const cells = svg.append('g');
memberColors.forEach((c, k) => {
  const col = k % 25, row = Math.floor(k / 25);
  const cx = 430 + col * 11;
  cells.append('rect').attr('x', cx).attr('y', 645 + row * 6).attr('width', 11).attr('height', 6)
    .attr('fill', c).attr('shape-rendering', 'crispEdges');
  cells.append('text').attr('x', cx + 5.5).attr('y', row ? 664 : 643.5)
    .attr('text-anchor', 'middle').attr('font-size', 9).attr('font-weight', 'bold')
    .attr('textLength', 10.6).attr('lengthAdjust', 'spacingAndGlyphs')
    .text(String(k + 1).padStart(2, '0'));
});

// title box
svg.append('rect').attr('x', 21).attr('y', 668).attr('width', 419).attr('height', 31)
  .attr('fill', 'none').attr('stroke', '#000').attr('stroke-width', 2).attr('shape-rendering', 'crispEdges');
label(30, 681, 'Diagramme ensembles ECMWF/CEP 0.4° sur 360h : 46N 4.7E', 11, 7, true);
label(30, 694, 'Températures 2m (°C) , précipitations (mm)', 10.5, 6);
label(450, 679, 'Ensemble ECMWF/CEP du 21/01/2024 - 00Z', 10.5, 6);
label(450, 694.5, 'Copyright 2024 Meteociel.fr - ECMWF', 11, 7, true);
</script>
</body>
</html>
